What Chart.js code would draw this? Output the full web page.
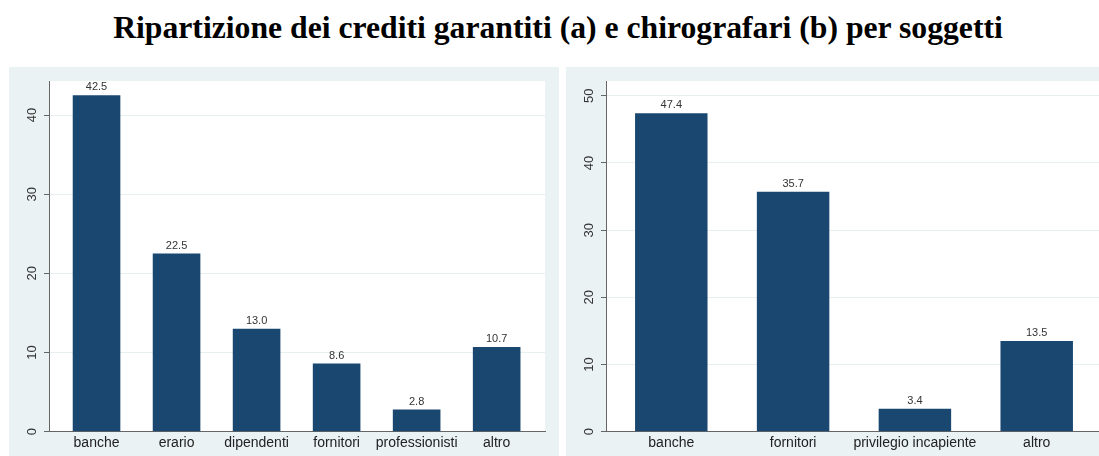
<!DOCTYPE html>
<html>
<head>
<meta charset="utf-8">
<script src="https://cdn.jsdelivr.net/npm/chart.js@4"></script>
<style>
  body { margin: 0; width: 1099px; height: 456px; overflow: hidden; background: #fff; position: relative; }
  #title {
    position: absolute; left: 0; top: 10px; width: 1116px; text-align: center;
    font: bold 31.7px "Liberation Serif", "Times New Roman", serif; color: #000; white-space: nowrap;
  }
  .panel { position: absolute; top: 67px; width: 550px; height: 389px; background: #eaf2f3; }
  canvas { display: block; }
</style>
</head>
<body>
<div id="title"></div>
<div class="panel" style="left:9px"><canvas id="chartA" width="550" height="389"></canvas></div>
<div class="panel" style="left:566px"><canvas id="chartB" width="550" height="389"></canvas></div>
<script>
const TITLE = "Ripartizione dei crediti garantiti (a) e chirografari (b) per soggetti";

// (a) crediti garantiti
const categoriesA = ["banche", "erario", "dipendenti", "fornitori", "professionisti", "altro"];
const valuesA = [42.5, 22.5, 13.0, 8.6, 2.8, 10.7];
const yTicksA = [0, 10, 20, 30, 40];

// (b) crediti chirografari
const categoriesB = ["banche", "fornitori", "privilegio incapiente", "altro"];
const valuesB = [47.4, 35.7, 3.4, 13.5];
const yTicksB = [0, 10, 20, 30, 40, 50];

const BAR_COLOR = "#1a476f";
const AXIS_COLOR = "#666";
const GRID_COLOR = "#e8eff1";
const FONT = "'Liberation Sans', Arial, Helvetica, sans-serif";

document.getElementById("title").textContent = TITLE;

// white plot region over the grey panel
const plotBackground = {
  id: "plotBackground",
  beforeDraw(chart) {
    const { ctx, chartArea: a } = chart;
    ctx.save();
    ctx.fillStyle = "#fff";
    ctx.fillRect(a.left, a.top, a.right - a.left, a.bottom - a.top);
    ctx.restore();
  },
};

// value labels above each bar
const barValues = {
  id: "barValues",
  afterDatasetsDraw(chart) {
    const { ctx } = chart;
    const meta = chart.getDatasetMeta(0);
    const data = chart.data.datasets[0].data;
    ctx.save();
    ctx.font = "11px " + FONT;
    ctx.fillStyle = "#333";
    ctx.textAlign = "center";
    ctx.textBaseline = "alphabetic";
    meta.data.forEach((bar, i) => {
      ctx.fillText(data[i].y.toFixed(1), bar.x, bar.y - 5);
    });
    ctx.restore();
  },
};

function makeChart(canvasId, categories, values, yTicks, xMin, xMax, yMax) {
  return new Chart(document.getElementById(canvasId), {
    type: "bar",
    data: {
      datasets: [
        {
          data: values.map((v, i) => ({ x: i, y: v })),
          backgroundColor: BAR_COLOR,
          borderWidth: 0,
          barPercentage: 0.595,
          categoryPercentage: 1,
        },
      ],
    },
    options: {
      responsive: false,
      animation: false,
      layout: { padding: { top: 14, right: 14, left: 0, bottom: 0 } },
      plugins: { legend: { display: false }, tooltip: { enabled: false } },
      scales: {
        x: {
          type: "linear",
          min: xMin,
          max: xMax,
          offset: false,
          afterBuildTicks: (s) => { s.ticks = categories.map((_, i) => ({ value: i })); },
          afterFit: (s) => { s.height = 24.3; },
          grid: { display: false, drawTicks: false, offset: false },
          border: { display: true, color: AXIS_COLOR, width: 1 },
          ticks: {
            padding: 3,
            autoSkip: false,
            maxRotation: 0,
            color: "#222",
            font: { family: FONT, size: 14 },
            callback: (v) => categories[v] ?? "",
          },
        },
        y: {
          min: 0,
          max: yMax,
          afterBuildTicks: (s) => { s.ticks = yTicks.map((v) => ({ value: v })); },
          afterFit: (s) => { s.width = 40; },
          grid: { color: GRID_COLOR, lineWidth: 1, tickColor: AXIS_COLOR, tickLength: 5 },
          border: { display: true, color: AXIS_COLOR, width: 1 },
          ticks: {
            minRotation: 90,
            maxRotation: 90,
            crossAlign: "center",
            padding: 4,
            color: "#333",
            font: { family: FONT, size: 13 },
          },
        },
      },
    },
    plugins: [plotBackground, barValues],
  });
}

makeChart("chartA", categoriesA, valuesA, yTicksA, -0.594, 5.604, 44.3);
makeChart("chartB", categoriesB, valuesB, yTicksB, -0.536, 3.536, 52.2);
</script>
</body>
</html>
